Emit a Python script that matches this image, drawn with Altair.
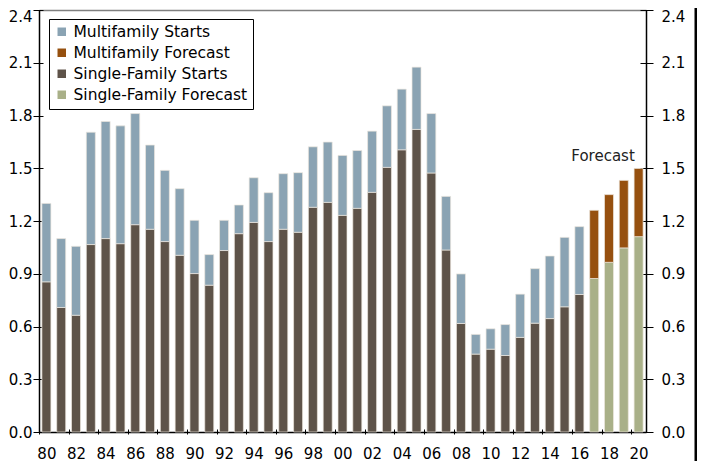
import altair as alt
import pandas as pd

years = list(range(1980, 2021))
single_family = [0.854, 0.708, 0.664, 1.066, 1.100, 1.071, 1.179, 1.153, 1.083, 1.005,
                 0.901, 0.835, 1.032, 1.128, 1.192, 1.083, 1.153, 1.136, 1.278, 1.306,
                 1.232, 1.272, 1.363, 1.505, 1.605, 1.721, 1.473, 1.035, 0.617, 0.443,
                 0.471, 0.435, 0.538, 0.619, 0.645, 0.712, 0.782, 0.873, 0.965, 1.047, 1.111]
multifamily = [0.446, 0.392, 0.392, 0.639, 0.666, 0.670, 0.632, 0.479, 0.405, 0.379,
               0.303, 0.174, 0.172, 0.163, 0.254, 0.278, 0.316, 0.339, 0.344, 0.343,
               0.341, 0.329, 0.348, 0.350, 0.345, 0.354, 0.338, 0.305, 0.282, 0.112,
               0.116, 0.176, 0.246, 0.310, 0.356, 0.395, 0.386, 0.388, 0.385, 0.384, 0.388]
first_forecast_year = 2017

series_names = ["Multifamily Starts", "Multifamily Forecast",
                "Single-Family Starts", "Single-Family Forecast"]
series_colors = ["#8aa3b3", "#96500f", "#5e5349", "#a9b088"]

y_ticks = [0.0, 0.3, 0.6, 0.9, 1.2, 1.5, 1.8, 2.1, 2.4]
x_ticks = [y - 0.5 for y in range(1980, 2021, 2)]

rows = []
for yr, sf, mf in zip(years, single_family, multifamily):
    fc = yr >= first_forecast_year
    rows.append({"year": yr, "value": sf, "order": 0,
                 "series": "Single-Family Forecast" if fc else "Single-Family Starts"})
    rows.append({"year": yr, "value": mf, "order": 1,
                 "series": "Multifamily Forecast" if fc else "Multifamily Starts"})
df = pd.DataFrame(rows)

note = pd.DataFrame({"year": [2017.6], "value": [1.57], "text": ["Forecast"]})

FONT = "DejaVu Sans"
xs = alt.Scale(domain=[1979.5, 2020.5], nice=False, zero=False, padding=0)
ys = alt.Scale(domain=[0, 2.4], nice=False, zero=True)

top_label_shift = {"condition": {"test": "datum.value >= 2.35", "value": 6}, "value": 0}

x_main = alt.Axis(orient="bottom", values=x_ticks, title=None, grid=False, domain=False,
                  offset=-3, tickSize=5, tickColor="black", tickWidth=1,
                  labelExpr="format((datum.value + 0.5) % 100, '02d')",
                  labelOffset=7.4, labelPadding=12, labelFlush=False, labelOverlap=False,
                  labelFont=FONT, labelFontSize=15, labelColor="black")
y_left = alt.Axis(orient="left", values=y_ticks, format=".1f", title=None, grid=False,
                  domain=False, offset=-4, tickSize=10, tickColor="black",
                  labelPadding=1, labelOffset=top_label_shift,
                  labelFont=FONT, labelFontSize=15, labelColor="black")
y_right = alt.Axis(orient="right", values=y_ticks, format=".1f", title=None, grid=False,
                   domain=False, offset=-6, tickSize=13, tickColor="black",
                   labelPadding=8, labelOffset=top_label_shift,
                   labelFont=FONT, labelFontSize=15, labelColor="black")
x_bottom_dom = alt.Axis(orient="bottom", title=None, grid=False, ticks=False, labels=False,
                        domain=True, domainColor="black", domainWidth=1.5)
x_top_dom = alt.Axis(orient="top", title=None, grid=False, ticks=False, labels=False,
                     domain=True, domainColor="#808080", domainWidth=1.5)
y_left_dom = alt.Axis(orient="left", title=None, grid=False, ticks=False, labels=False,
                      domain=True, domainColor="black", domainWidth=1.5)
y_right_dom = alt.Axis(orient="right", title=None, grid=False, ticks=False, labels=False,
                       domain=True, domainColor="black", domainWidth=1.5)

base = alt.Chart(df)

bars = base.mark_bar(size=9, stroke="#ece6de", strokeWidth=0.7).encode(
    x=alt.X("year:Q", scale=xs, axis=x_main),
    y=alt.Y("value:Q", stack="zero", scale=ys, axis=y_left),
    color=alt.Color("series:N",
                    scale=alt.Scale(domain=series_names, range=series_colors),
                    sort=series_names,
                    legend=alt.Legend(title=None, orient="none", legendX=10, legendY=9,
                                      strokeColor="black", padding=5, fillColor="white",
                                      symbolType="square", symbolSize=72,
                                      symbolStrokeWidth=0, rowPadding=4,
                                      labelFont=FONT, labelFontSize=15.5, labelLimit=400,
                                      labelColor="black", labelOffset=4)),
    order=alt.Order("order:Q"),
)

right_axis = base.mark_point(opacity=0).encode(
    x=alt.X("year:Q", scale=xs, axis=None),
    y=alt.Y("value:Q", scale=ys, axis=y_right),
)
dom1 = base.mark_point(opacity=0).encode(
    x=alt.X("year:Q", scale=xs, axis=x_bottom_dom),
    y=alt.Y("value:Q", scale=ys, axis=y_left_dom),
)
dom2 = base.mark_point(opacity=0).encode(
    x=alt.X("year:Q", scale=xs, axis=x_top_dom),
    y=alt.Y("value:Q", scale=ys, axis=y_right_dom),
)

label = alt.Chart(note).mark_text(font=FONT, fontSize=15, color="#222222",
                                  align="center", baseline="middle").encode(
    x=alt.X("year:Q", scale=xs, axis=None),
    y=alt.Y("value:Q", scale=ys, axis=None),
    text="text:N",
)

border = alt.Chart(note).mark_rule(color="black", strokeWidth=4).encode(
    x=alt.value(657.5), y=alt.value(-20), y2=alt.value(480)
)

chart = alt.layer(bars, right_axis, dom1, dom2, label, border).resolve_axis(
    x="independent", y="independent"
).properties(
    width=607, height=422,
    autosize=alt.AutoSizeParams(type="none"),
    padding={"left": 31, "top": 2, "right": 51, "bottom": 31},
    background="white",
).configure_view(stroke=None)

chart.save("out.html", embed_options={"renderer": "svg", "actions": False})
